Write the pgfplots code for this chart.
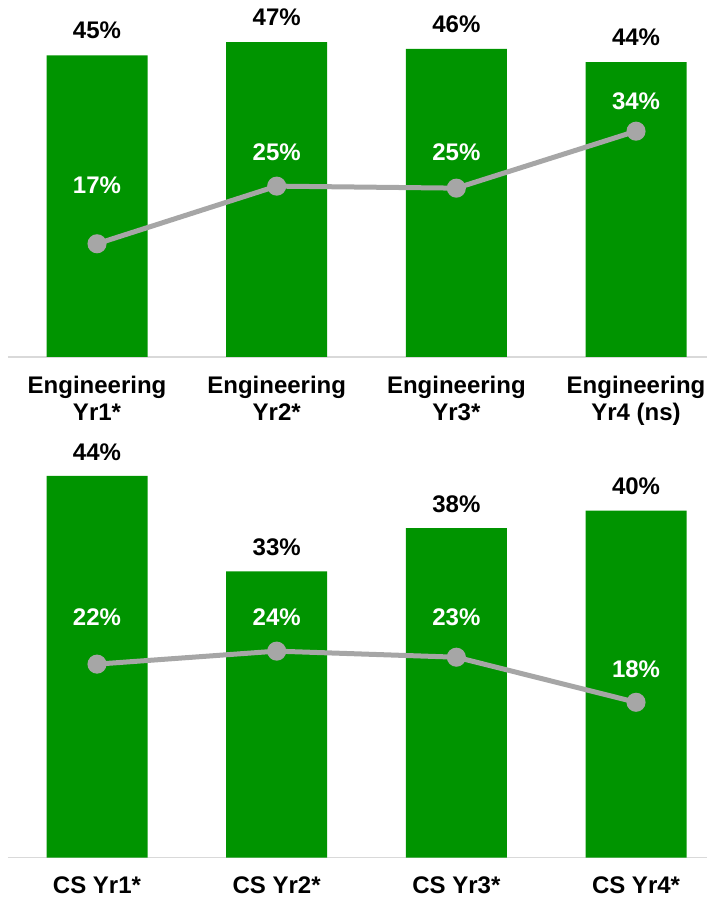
\documentclass[border=0pt]{standalone}
\usepackage{fontspec}
\setmainfont{Liberation Sans}
\usepackage{pgfplots}
\pgfplotsset{compat=1.18}
\definecolor{barg}{RGB}{0,148,0}
\definecolor{lineg}{RGB}{166,166,166}
\definecolor{axg}{RGB}{217,217,217}
\newcommand{\bigf}{\fontsize{24}{27}\selectfont\bfseries}
\pgfplotsset{mystyle/.style={scale only axis, width=699pt,
  xmin=-0.4954, xmax=3.395, ymin=0,
  axis x line*=bottom, axis y line=none,
  x axis line style={draw=axg, line width=1.5pt, -},
  xtick={0,1,2,3}, major tick length=0pt, ytick=\empty, clip=false,
  /pgf/number format/assume math mode=true,
  xticklabel style={font=\bigf, align=center, yshift=-16pt}}}
\begin{document}
\begin{tikzpicture}
\useasboundingbox (0,0) rectangle (707pt,898pt);
% top panel
\begin{axis}[mystyle, at={(8pt,541pt)}, anchor=south west, height=357pt, ymax=53.28,
  xticklabels={{Engineering\\Yr1*},{Engineering\\Yr2*},{Engineering\\Yr3*},{Engineering\\Yr4 (ns)}}]
\addplot[ybar, bar width=101pt, fill=barg, draw=none,
  nodes near coords={\pgfmathprintnumber\pgfplotspointmeta\%},
  every node near coord/.append style={anchor=center, yshift=25pt, font=\bigf, text=black}]
  coordinates {(0,45) (1,47) (2,46) (3,44)};
\addplot[lineg, line width=5pt, mark=*, mark size=7pt, mark options={fill=lineg, draw=none}]
  coordinates {(0,16.9) (1,25.5) (2,25.2) (3,33.7)};
\addplot[draw=none, mark=none, nodes near coords, point meta=explicit symbolic,
  every node near coord/.append style={anchor=center, font=\bigf, text=white}]
  coordinates {(0,25.7) [17\%] (1,30.6) [25\%] (2,30.6) [25\%] (3,38.2) [34\%]};
\end{axis}
% bottom panel
\begin{axis}[mystyle, at={(8pt,40.5pt)}, anchor=south west, height=417.5pt, ymax=48.15,
  xticklabels={{CS Yr1*},{CS Yr2*},{CS Yr3*},{CS Yr4*}}]
\addplot[ybar, bar width=101pt, fill=barg, draw=none,
  nodes near coords={\pgfmathprintnumber\pgfplotspointmeta\%},
  every node near coord/.append style={anchor=center, yshift=24pt, font=\bigf, text=black}]
  coordinates {(0,44) (1,33) (2,38) (3,40)};
\addplot[lineg, line width=5pt, mark=*, mark size=7pt, mark options={fill=lineg, draw=none}]
  coordinates {(0,22.3) (1,23.8) (2,23.1) (3,17.9)};
\addplot[draw=none, mark=none, nodes near coords, point meta=explicit symbolic,
  every node near coord/.append style={anchor=center, font=\bigf, text=white}]
  coordinates {(0,27.7) [22\%] (1,27.7) [24\%] (2,27.7) [23\%] (3,21.7) [18\%]};
\end{axis}
\end{tikzpicture}
\end{document}
